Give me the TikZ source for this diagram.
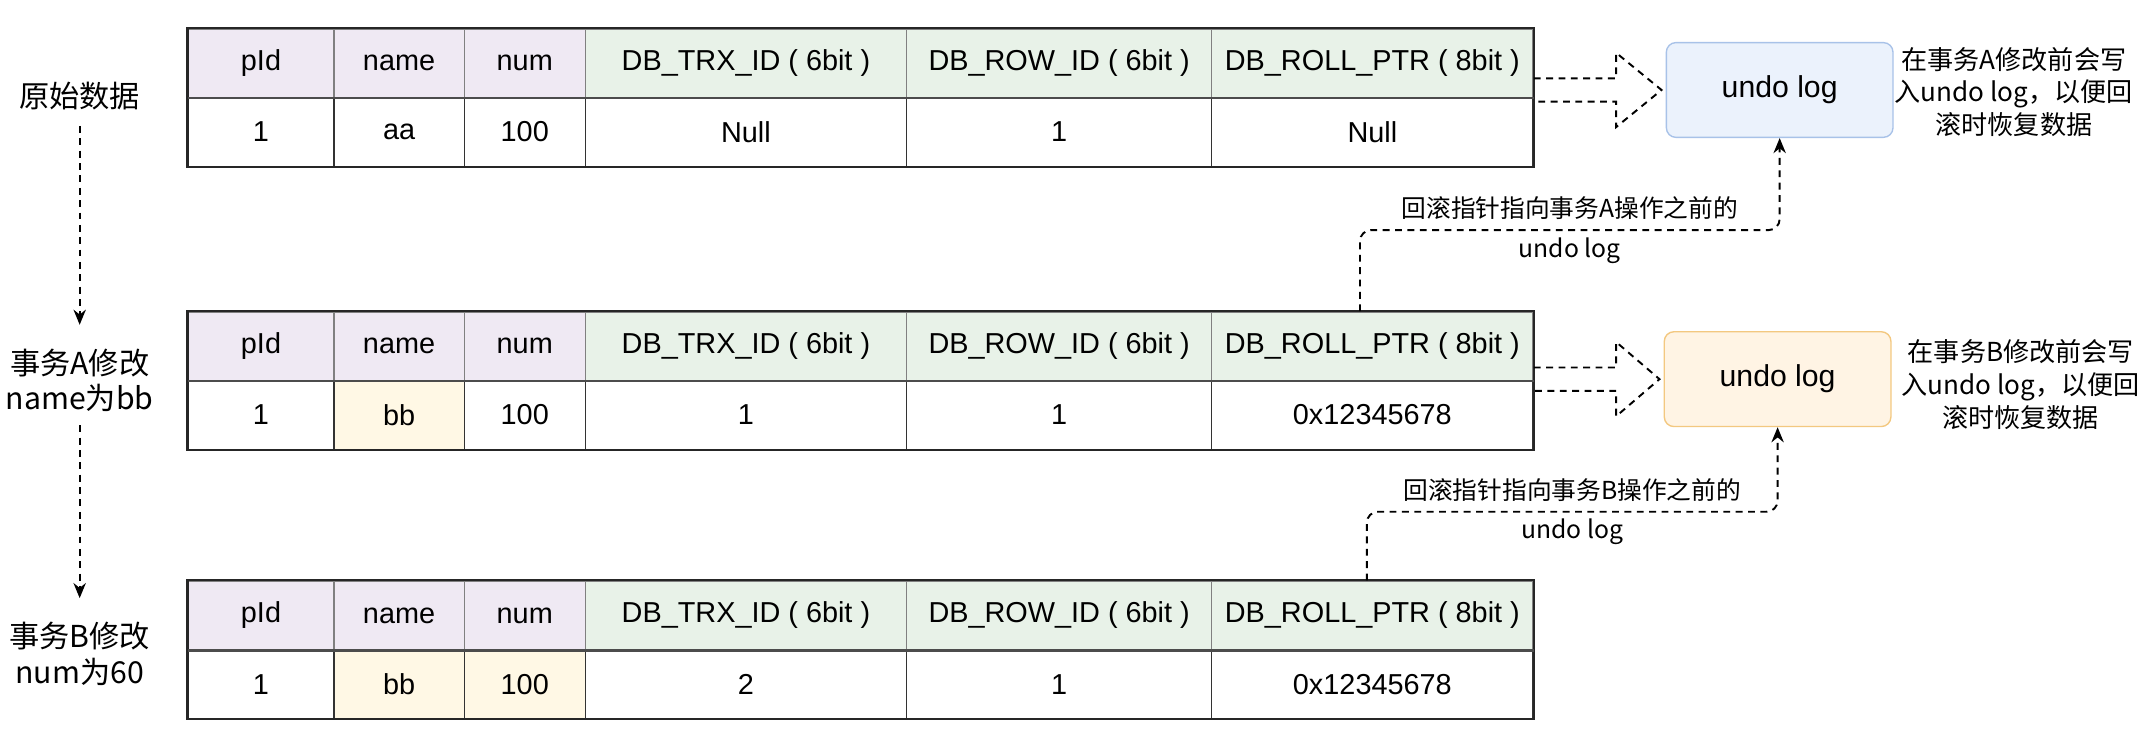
\documentclass[tikz,border=0pt]{standalone}
\usepackage{fontspec}
\setmainfont{Liberation Sans}
\newfontfamily\cjk{Noto Sans CJK SC}
\usetikzlibrary{arrows.meta,calc}
\definecolor{hdpurple}{RGB}{239,233,243}
\definecolor{hdgreen}{RGB}{232,242,232}
\definecolor{yelfill}{RGB}{255,248,229}
\definecolor{cellgray}{RGB}{128,128,128}
\definecolor{bluefill}{RGB}{235,242,252}
\definecolor{bluestroke}{RGB}{168,194,232}
\definecolor{orgfill}{RGB}{255,244,228}
\definecolor{orgstroke}{RGB}{243,200,128}
\begin{document}
\begin{tikzpicture}[x=1pt, y=-1pt,
    cell/.style={minimum height=50pt, inner sep=0pt, line width=1pt, font=\fontsize{21}{24}\selectfont},
    hcell/.style={cell, draw=cellgray},
    dcell/.style={cell, draw=black!80},
    tag/.style={font=\cjk\fontsize{22}{26}\selectfont, align=center},
    note/.style={font=\cjk\fontsize{19}{24}\selectfont, align=center},
    lbl/.style={font=\cjk\fontsize{18}{29}\selectfont, align=center},
    ulog/.style={rounded corners=7pt, minimum width=165pt, minimum height=69pt, line width=1pt, font=\fontsize{22}{24}\selectfont},
    dsh/.style={dash pattern=on 5pt off 4pt, line width=1.4pt},
    flow/.style={dsh, -{Stealth[length=11pt,width=9pt]}}]
    \useasboundingbox (0,0) rectangle (1568,534);
    % 表头
    \foreach \r/\y in {1/46, 2/252, 3/448}{
        \foreach \i/\x/\w/\c/\txt in {1/190/106/hdpurple/pId, 2/290.5/95/hdpurple/name, 3/382/88/hdpurple/num,
                4/543/234/hdgreen/{DB\_TRX\_ID ( 6bit )}, 5/771/222/hdgreen/{DB\_ROW\_ID ( 6bit )},
                6/999/234/hdgreen/{DB\_ROLL\_PTR ( 8bit )}}
            \node[hcell, fill=\c, minimum width=\w pt] (t\r-h\i) at (\x,\y) {\txt};
    }
    % 数据行
    \foreach \i/\x/\w/\c/\txt in {1/190/106/white/1, 2/290.5/95/white/aa, 3/382/88/white/100,
            4/543/234/white/Null, 5/771/222/white/1, 6/999/234/white/Null}
        \node[dcell, fill=\c, minimum width=\w pt] (t1-d\i) at (\x,96) {\txt};
    \foreach \i/\x/\w/\c/\txt in {1/190/106/white/1, 2/290.5/95/yelfill/bb, 3/382/88/white/100,
            4/543/234/white/1, 5/771/222/white/1, 6/999/234/white/0x12345678}
        \node[dcell, fill=\c, minimum width=\w pt] (t2-d\i) at (\x,302) {\txt};
    \foreach \i/\x/\w/\c/\txt in {1/190/106/white/1, 2/290.5/95/yelfill/bb, 3/382/88/yelfill/100,
            4/543/234/white/2, 5/771/222/white/1, 6/999/234/white/0x12345678}
        \node[dcell, fill=\c, minimum width=\w pt] (t3-d\i) at (\x,498) {\txt};
    % 外框
    \foreach \r in {1,2,3}{
        \draw[line width=1.6pt, black!85] (t\r-h1.north west) rectangle (t\r-d6.south east);
        \draw[line width=1.6pt, black!70] (t\r-h1.south west) -- (t\r-h6.south east);
    }
    % 左侧说明
    \node[tag] (s0) at (58,70) {原始数据};
    \node[tag] (s1) at (58,277) {事务A修改\\name为bb};
    \node[tag] (s2) at (58,476) {事务B修改\\num为60};
    \draw[flow, shorten <=8pt, shorten >=14pt] (s0.south) -- (s1.north);
    \draw[flow, shorten <=6pt, shorten >=14pt] (s1.south) -- (s2.north);
    % undo log
    \node[ulog, draw=bluestroke, fill=bluefill] (u1) at (1295.5,65.5) {\raisebox{-2pt}{undo log}};
    \node[ulog, draw=orgstroke, fill=orgfill] (u2) at (1294,276) {\raisebox{-2pt}{undo log}};
    \node[note] (n1) at (1466,67) {在事务A修改前会写\\入undo log，以便回\\滚时恢复数据};
    \node[note] (n2) at (1471,280) {在事务B修改前会写\\入undo log，以便回\\滚时恢复数据};
    % 空心箭头
    \foreach \tb/\ub in {t1/u1, t2/u2}
        \draw[dsh] ($(\tb-h6.south east |- \ub.west)+(0,-8.5)$) -- ++(60,0) -- ++(0,-18.5)
            -- ($(\ub.west)+(-3,0)$) -- ($(\tb-h6.south east |- \ub.west)+(60,27)$) -- ++(0,-18.5) -- ++(-60,0);
    % 回滚指针
    \draw[flow, rounded corners=8pt] ($(t2-h6.north)+(-9,0)$) |- node[pos=0.75, lbl] {回滚指针指向事务A操作之前的\\undo log}
        ($(u1.south)+(0,67)$) -- (u1.south);
    \draw[flow, rounded corners=8pt] ($(t3-h6.north)+(-4,0)$) |- node[pos=0.75, lbl] {回滚指针指向事务B操作之前的\\undo log}
        ($(u2.south)+(0,61.5)$) -- (u2.south);
\end{tikzpicture}
\end{document}
